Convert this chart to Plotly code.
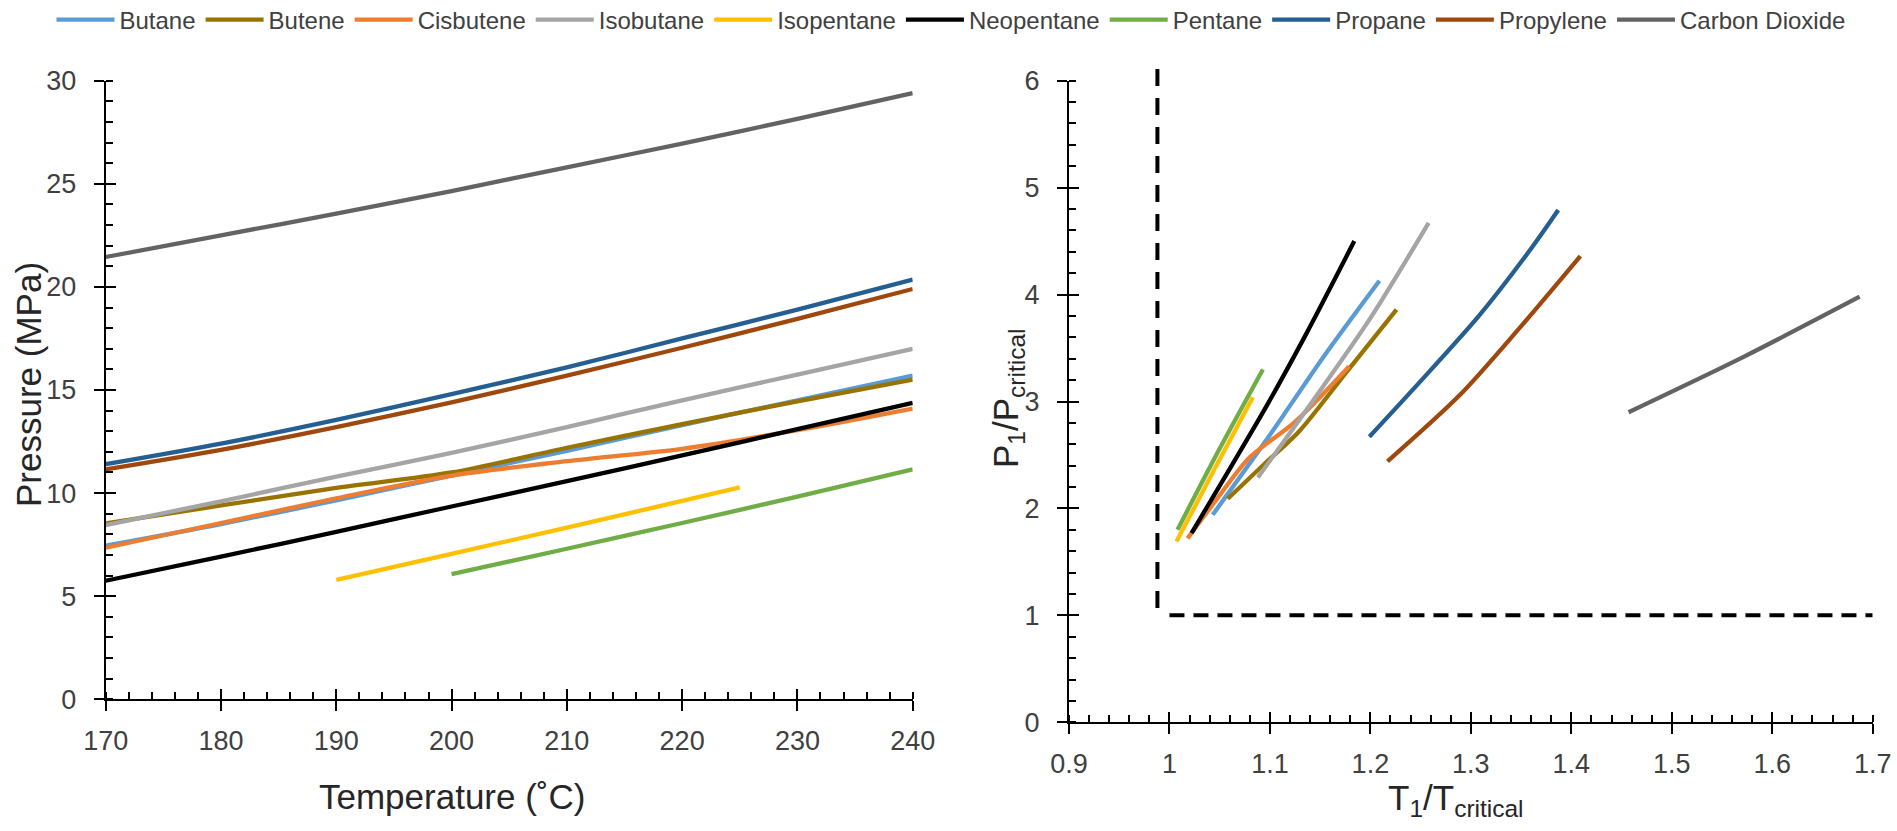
import plotly.graph_objects as go

# ---------------- data ----------------
names = ["Butane", "Butene", "Cisbutene", "Isobutane", "Isopentane",
         "Neopentane", "Pentane", "Propane", "Propylene", "Carbon Dioxide"]
colors = ["#5B9BD5", "#997300", "#ED7D31", "#A5A5A5", "#FFC000",
          "#000000", "#70AD47", "#255E91", "#9E480E", "#636363"]

# Left panel: Pressure (MPa) vs Temperature (C)
T_full = [170, 180, 190, 200, 210, 220, 230, 240]
T_isopentane = [190, 200, 210, 220, 225]
T_pentane = [200, 210, 220, 230, 240]

P_butane = [7.45, 8.5, 9.65, 10.85, 12.05, 13.3, 14.5, 15.7]
P_butene = [8.53, 9.4, 10.25, 11.0, 12.2, 13.35, 14.45, 15.5]
P_cisbutene = [7.35, 8.55, 9.75, 10.85, 11.55, 12.15, 13.05, 14.1]
P_isobutane = [8.45, 9.6, 10.8, 11.95, 13.2, 14.5, 15.75, 17.0]
P_isopentane = [5.79, 7.05, 8.33, 9.62, 10.28]
P_neopentane = [5.75, 6.92, 8.12, 9.35, 10.58, 11.83, 13.1, 14.38]
P_pentane = [6.07, 7.3, 8.55, 9.83, 11.15]
P_propane = [11.4, 12.4, 13.55, 14.8, 16.1, 17.5, 18.9, 20.35]
P_propylene = [11.15, 12.1, 13.2, 14.4, 15.7, 17.05, 18.45, 19.9]
P_co2 = [21.45, 22.5, 23.55, 24.65, 25.8, 26.95, 28.15, 29.4]

# Right panel: reduced pressure vs reduced temperature
Tr_butane = [1.043, 1.098, 1.155, 1.209]
Pr_butane = [1.94, 2.66, 3.44, 4.13]
Tr_butene = [1.058, 1.095, 1.129, 1.175, 1.226]
Pr_butene = [2.09, 2.42, 2.72, 3.26, 3.86]
Tr_cisbutene = [1.018, 1.045, 1.079, 1.125, 1.179]
Pr_cisbutene = [1.72, 2.06, 2.47, 2.81, 3.33]
Tr_isobutane = [1.088, 1.14, 1.2, 1.258]
Pr_isobutane = [2.29, 2.97, 3.78, 4.67]
Tr_isopentane = [1.007, 1.045, 1.083]
Pr_isopentane = [1.69, 2.37, 3.04]
Tr_neopentane = [1.022, 1.06, 1.098, 1.136, 1.184]
Pr_neopentane = [1.77, 2.37, 2.98, 3.63, 4.5]
Tr_pentane = [1.008, 1.05, 1.093]
Pr_pentane = [1.80, 2.56, 3.30]
Tr_propane = [1.199, 1.25, 1.308, 1.36, 1.387]
Pr_propane = [2.67, 3.19, 3.8, 4.43, 4.79]
Tr_propylene = [1.217, 1.289, 1.346, 1.409]
Pr_propylene = [2.44, 3.06, 3.66, 4.36]
Tr_co2 = [1.457, 1.572, 1.687]
Pr_co2 = [2.9, 3.42, 3.98]

# critical-point guide lines
crit_vert_x = [0.988, 0.988]
crit_vert_y = [1.07, 6.13]
crit_horiz_x = [1.0, 1.7]
crit_horiz_y = [1.0, 1.0]

left_x = [T_full, T_full, T_full, T_full, T_isopentane,
          T_full, T_pentane, T_full, T_full, T_full]
left_y = [P_butane, P_butene, P_cisbutene, P_isobutane, P_isopentane,
          P_neopentane, P_pentane, P_propane, P_propylene, P_co2]
right_x = [Tr_butane, Tr_butene, Tr_cisbutene, Tr_isobutane, Tr_isopentane,
           Tr_neopentane, Tr_pentane, Tr_propane, Tr_propylene, Tr_co2]
right_y = [Pr_butane, Pr_butene, Pr_cisbutene, Pr_isobutane, Pr_isopentane,
           Pr_neopentane, Pr_pentane, Pr_propane, Pr_propylene, Pr_co2]

# ---------------- figure ----------------
W, H = 1897, 831
FONT = "Liberation Sans, Arial, sans-serif"
LW = 4.3
fig = go.Figure()

for i, nm in enumerate(names):
    fig.add_trace(go.Scatter(
        x=left_x[i], y=left_y[i], mode="lines", name=nm, legendgroup=nm,
        line=dict(color=colors[i], width=LW, shape="spline", smoothing=0.8),
        xaxis="x", yaxis="y", showlegend=True))
for i, nm in enumerate(names):
    fig.add_trace(go.Scatter(
        x=right_x[i], y=right_y[i], mode="lines", name=nm, legendgroup=nm,
        line=dict(color=colors[i], width=LW, shape="spline", smoothing=0.8),
        xaxis="x2", yaxis="y2", showlegend=False))

# dashed guides on a hidden, taller copy of the right-panel scale
fig.add_trace(go.Scatter(x=crit_vert_x, y=crit_vert_y, mode="lines",
                         line=dict(color="black", width=4, dash="17px,12px"),
                         xaxis="x5", yaxis="y5", showlegend=False))
fig.add_trace(go.Scatter(x=crit_horiz_x, y=crit_horiz_y, mode="lines",
                         line=dict(color="black", width=4, dash="15px,9px"),
                         xaxis="x5", yaxis="y5", showlegend=False))

# invisible traces so the overlay axes (inner half of crossing ticks) render
fig.add_trace(go.Scatter(x=[None], y=[None], xaxis="x3", yaxis="y3",
                         showlegend=False, hoverinfo="skip"))
fig.add_trace(go.Scatter(x=[None], y=[None], xaxis="x4", yaxis="y4",
                         showlegend=False, hoverinfo="skip"))


def px_x(p):
    return p / W


def px_y(p):
    return 1 - p / H


dom_x1 = [px_x(105.7), px_x(912.7)]
dom_y1 = [px_y(699.3), px_y(80.7)]
dom_x2 = [px_x(1069), px_x(1872.7)]
dom_y2 = [px_y(722.3), px_y(80.7)]
# taller hidden panel with identical data scale (same px per unit)
top5 = 55.0
dom_y5 = [px_y(722.3), px_y(top5)]
y5_max = 6 * (722.3 - top5) / (722.3 - 80.7)

tickfont = dict(family=FONT, size=27, color="#404040")
base = dict(showgrid=False, zeroline=False, showline=True, linecolor="black",
            linewidth=2, ticks="outside", ticklen=10, tickwidth=2,
            tickcolor="black", tickfont=tickfont, tickmode="linear",
            automargin=False)
inner = dict(showgrid=False, zeroline=False, showline=False, ticks="inside",
             ticklen=10, tickwidth=2, tickcolor="black", showticklabels=False,
             tickmode="linear", automargin=False)


def minor(d):
    return dict(dtick=d, ticks="inside", ticklen=7, tickwidth=1.5,
                tickcolor="black", showgrid=False)


fig.update_layout(
    width=W, height=H,
    margin=dict(l=0, r=0, t=0, b=0, autoexpand=False),
    paper_bgcolor="white", plot_bgcolor="rgba(0,0,0,0)",
    xaxis=dict(domain=dom_x1, range=[170, 240], tick0=170, dtick=10,
               anchor="y", minor=minor(2), ticklabelstandoff=6, **base),
    yaxis=dict(domain=dom_y1, range=[0, 30], tick0=0, dtick=5,
               anchor="x", minor=minor(1), ticklabelstandoff=12, **base),
    xaxis2=dict(domain=dom_x2, range=[0.9, 1.7], tick0=0.9, dtick=0.1,
                anchor="y2", minor=minor(0.02), ticklabelstandoff=6, **base),
    yaxis2=dict(domain=dom_y2, range=[0, 6], tick0=0, dtick=1,
                anchor="x2", minor=minor(0.2), ticklabelstandoff=12, **base),
    xaxis3=dict(overlaying="x", anchor="y3", range=[170, 240], tick0=170,
                dtick=10, **inner),
    yaxis3=dict(overlaying="y", anchor="x3", range=[0, 30], tick0=0,
                dtick=5, **inner),
    xaxis4=dict(overlaying="x2", anchor="y4", range=[0.9, 1.7], tick0=0.9,
                dtick=0.1, **inner),
    yaxis4=dict(overlaying="y2", anchor="x4", range=[0, 6], tick0=0,
                dtick=1, **inner),
    xaxis5=dict(domain=dom_x2, range=[0.9, 1.7], anchor="y5", visible=False),
    yaxis5=dict(domain=dom_y5, range=[0, y5_max], anchor="x5", visible=False),
    legend=dict(orientation="h", x=px_x(951), xanchor="center",
                y=px_y(20), yanchor="middle", itemwidth=58,
                font=dict(family=FONT, size=24, color="#404040"),
                bgcolor="rgba(0,0,0,0)"),
    showlegend=True,
)

title_font = dict(family=FONT, size=35, color="#262626")
fig.add_annotation(text="Temperature (˚C)", xref="paper", yref="paper",
                   x=px_x(452), y=px_y(796), showarrow=False,
                   xanchor="center", yanchor="middle", font=title_font)
fig.add_annotation(text="Pressure (MPa)", xref="paper", yref="paper",
                   x=px_x(28), y=px_y(385), showarrow=False, textangle=-90,
                   xanchor="center", yanchor="middle", font=title_font)
fig.add_annotation(text="T<sub>1</sub>/T<sub>critical</sub>", xref="paper",
                   yref="paper", x=px_x(1456), y=px_y(800), showarrow=False,
                   xanchor="center", yanchor="middle", font=title_font)
fig.add_annotation(text="P<sub>1</sub>/P<sub>critical</sub>", xref="paper",
                   yref="paper", x=px_x(1008), y=px_y(398), showarrow=False,
                   textangle=-90, xanchor="center", yanchor="middle",
                   font=title_font)

fig.write_html(
    "out.html",
    config={"displayModeBar": False},
    post_script=("document.body.style.margin='0px';"
                 "document.body.style.overflow='hidden';"
                 "document.documentElement.style.overflow='hidden';"))
